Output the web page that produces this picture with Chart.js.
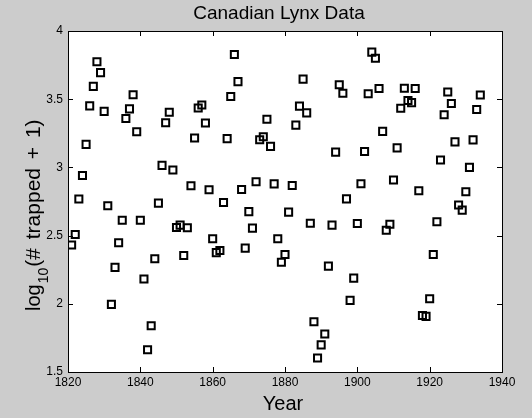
<!DOCTYPE html>
<html>
<head>
<meta charset="utf-8">
<script src="https://cdn.jsdelivr.net/npm/chart.js@4/dist/chart.umd.min.js"></script>
<style>
  html, body { margin: 0; padding: 0; background: #cccccc; }
  #wrap { width: 532px; height: 418px; }
</style>
</head>
<body>
<div id="wrap"><canvas id="c" width="532" height="418"></canvas></div>
<script>
// ---- data ----
const years = [
  1821,1822,1823,1824,1825,1826,1827,1828,1829,1830,
  1831,1832,1833,1834,1835,1836,1837,1838,1839,1840,
  1841,1842,1843,1844,1845,1846,1847,1848,1849,1850,
  1851,1852,1853,1854,1855,1856,1857,1858,1859,1860,
  1861,1862,1863,1864,1865,1866,1867,1868,1869,1870,
  1871,1872,1873,1874,1875,1876,1877,1878,1879,1880,
  1881,1882,1883,1884,1885,1886,1887,1888,1889,1890,
  1891,1892,1893,1894,1895,1896,1897,1898,1899,1900,
  1901,1902,1903,1904,1905,1906,1907,1908,1909,1910,
  1911,1912,1913,1914,1915,1916,1917,1918,1919,1920,
  1921,1922,1923,1924,1925,1926,1927,1928,1929,1930,
  1931,1932,1933,1934
];
const logTrapped = [
  2.431,2.508,2.768,2.941,3.169,3.451,3.594,3.774,3.695,3.411,
  2.719,1.996,2.267,2.447,2.613,3.359,3.429,3.533,3.261,2.613,
  2.182,1.663,1.839,2.330,2.738,3.015,3.328,3.404,2.981,2.559,
  2.577,2.354,2.558,2.865,3.215,3.436,3.458,3.326,2.836,2.477,
  2.375,2.391,2.743,3.211,3.520,3.828,3.629,2.838,2.408,2.676,
  2.555,2.895,3.203,3.225,3.353,3.154,2.879,2.477,2.305,2.362,
  2.672,2.867,3.310,3.449,3.647,3.400,2.591,1.869,1.602,1.699,
  1.778,2.276,2.577,3.112,3.606,3.544,2.769,2.025,2.188,2.589,
  2.880,3.117,3.540,3.845,3.800,3.579,3.264,2.539,2.583,2.908,
  3.143,3.434,3.580,3.490,3.475,3.579,2.829,1.914,1.908,2.037,
  2.362,2.602,3.054,3.386,3.553,3.468,3.187,2.724,2.687,2.822,
  3.000,3.202,3.425,3.531
];
const xTicks = [1820, 1840, 1860, 1880, 1900, 1920, 1940];
const yTicks = [1.5, 2, 2.5, 3, 3.5, 4];
const titleText = 'Canadian Lynx Data';
const xLabel = 'Year';
const yLabelMain = 'log';
const yLabelSub = '10';
const yLabelRest = '(# trapped + 1)';

const FONT = '"Liberation Sans", Arial, Helvetica, sans-serif';

const decorPlugin = {
  id: 'decor',
  beforeDraw(chart) {
    const ctx = chart.ctx, a = chart.chartArea;
    ctx.save();
    ctx.fillStyle = '#cccccc';
    ctx.fillRect(0, 0, chart.width, chart.height);
    ctx.fillStyle = '#ffffff';
    ctx.fillRect(a.left, a.top, a.right - a.left, a.bottom - a.top);
    ctx.restore();
  },
  afterDatasetsDraw(chart) {
    const ctx = chart.ctx, a = chart.chartArea;
    const xs = chart.scales.x, ys = chart.scales.y;
    ctx.save();
    ctx.strokeStyle = '#000';
    ctx.lineWidth = 1;
    ctx.strokeRect(Math.round(a.left) + 0.5, Math.round(a.top) + 0.5,
                   Math.round(a.right - a.left), Math.round(a.bottom - a.top));
    const tl = 5;
    ctx.beginPath();
    xs.ticks.forEach(t => {
      const px = Math.round(xs.getPixelForValue(t.value)) + 0.5;
      ctx.moveTo(px, a.bottom); ctx.lineTo(px, a.bottom - tl);
      ctx.moveTo(px, a.top); ctx.lineTo(px, a.top + tl);
    });
    ys.ticks.forEach(t => {
      const py = Math.round(ys.getPixelForValue(t.value)) + 0.5;
      ctx.moveTo(a.left, py); ctx.lineTo(a.left + tl, py);
      ctx.moveTo(a.right, py); ctx.lineTo(a.right - tl, py);
    });
    ctx.stroke();

    // title
    ctx.fillStyle = '#000';
    ctx.textAlign = 'center';
    ctx.textBaseline = 'alphabetic';
    ctx.font = '19px ' + FONT;
    ctx.fillText(titleText, 279, 19);
    // x label
    ctx.font = '20px ' + FONT;
    ctx.fillText(xLabel, 283, 410);
    // y label with subscript
    ctx.translate(40, 311);
    ctx.rotate(-Math.PI / 2);
    ctx.textAlign = 'left';
    ctx.font = '20px ' + FONT;
    ctx.fillText(yLabelMain, 0, 0);
    let w = ctx.measureText(yLabelMain).width;
    ctx.font = '14px ' + FONT;
    ctx.fillText(yLabelSub, w + 1, 8);
    w += ctx.measureText(yLabelSub).width + 2;
    ctx.font = '21px ' + FONT;
    try { ctx.wordSpacing = '3px'; } catch (e) {}
    ctx.fillText(yLabelRest, w, 0);
    ctx.restore();
  }
};

new Chart(document.getElementById('c'), {
  type: 'scatter',
  data: {
    datasets: [{
      data: years.map((yr, i) => ({ x: yr, y: logTrapped[i] })),
      pointStyle: 'rect',
      pointRadius: 5,
      pointHoverRadius: 5,
      borderColor: '#000000',
      backgroundColor: 'rgba(0,0,0,0)',
      borderWidth: 2,
      pointBorderWidth: 2
    }]
  },
  options: {
    responsive: false,
    animation: false,
    events: [],
    layout: { padding: { top: 31, right: 30, left: 0, bottom: 0 } },
    plugins: { legend: { display: false }, title: { display: false }, tooltip: { enabled: false } },
    scales: {
      x: {
        type: 'linear',
        min: 1820, max: 1940,
        afterBuildTicks: s => { s.ticks = xTicks.map(v => ({ value: v })); },
        afterFit: s => { s.height = 46; },
        grid: { display: false, drawTicks: false, tickLength: 0 },
        border: { display: false },
        ticks: { color: '#000', padding: 3, font: { family: FONT, size: 12 }, maxRotation: 0, autoSkip: false,
                 callback: v => String(v) }
      },
      y: {
        type: 'linear',
        min: 1.5, max: 4,
        afterBuildTicks: s => { s.ticks = yTicks.map(v => ({ value: v })); },
        afterFit: s => { s.width = 68; },
        grid: { display: false, drawTicks: false, tickLength: 0 },
        border: { display: false },
        ticks: { color: '#000', padding: 5, font: { family: FONT, size: 12 }, autoSkip: false,
                 callback: v => String(v) }
      }
    }
  },
  plugins: [decorPlugin]
});
</script>
</body>
</html>
